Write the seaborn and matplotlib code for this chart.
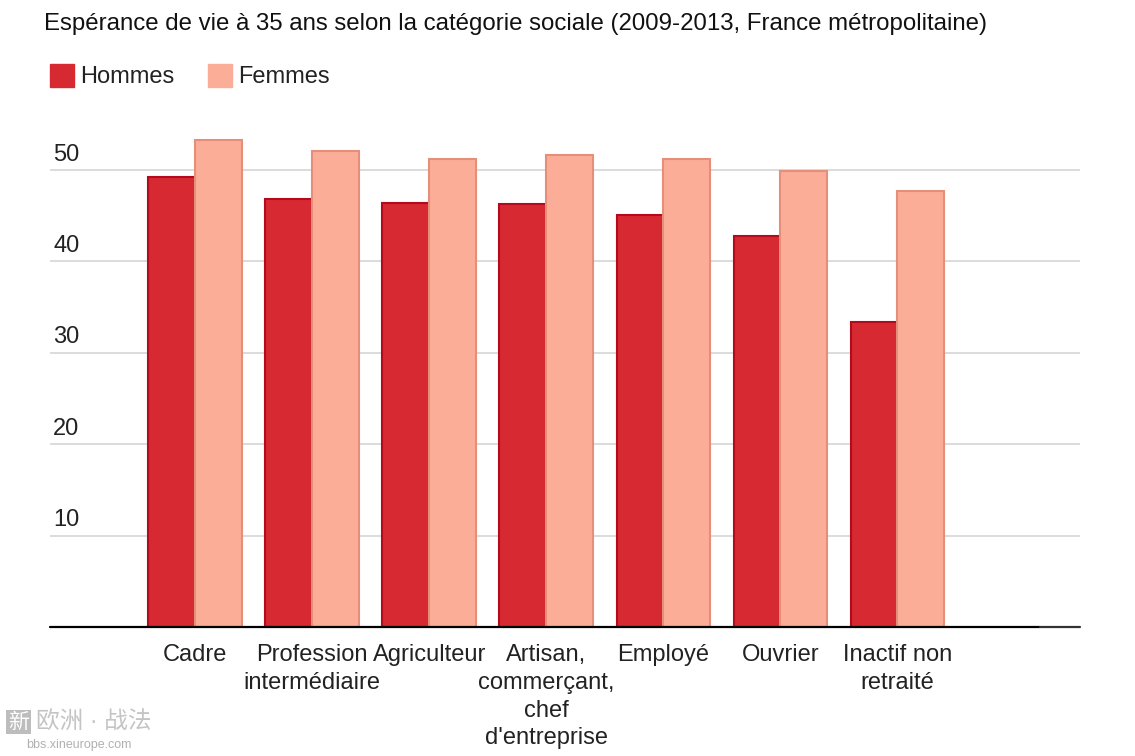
import numpy as np
import pandas as pd
import matplotlib.pyplot as plt
import seaborn as sb

# values
categories = ['Cadre', 'Profession\nintermédiaire', 'Agriculteur',
              'Artisan,\ncommerçant,\nchef\nd\'entreprise', 'Employé',
              'Ouvrier', 'Inactif non\nretraité']
hommes = [49.2, 46.8, 46.4, 46.2, 45.1, 42.7, 33.3]
femmes = [53.2, 52.1, 51.2, 51.6, 51.2, 49.9, 47.7]
series = ['Hommes', 'Femmes']
yticks = [10, 20, 30, 40, 50]

fill = {'Hommes': '#d62931', 'Femmes': '#fbad97'}
edge = {'Hommes': '#b5091d', 'Femmes': '#e58e7a'}

df = pd.DataFrame({
    'cat': categories * 2,
    'sexe': ['Hommes'] * len(categories) + ['Femmes'] * len(categories),
    'val': hommes + femmes,
})

sb.set_style('white')
plt.rcParams['font.family'] = ['Liberation Sans', 'Noto Sans CJK SC', 'DejaVu Sans']

fig = plt.figure(figsize=(11.35, 7.56), dpi=100)
ax = fig.add_axes([50 / 1135, 1 - 627 / 756, 1030 / 1135, (627 - 124) / 756])

sb.barplot(data=df, x='cat', y='val', hue='sexe', hue_order=series,
           palette=fill, width=0.8, ax=ax, saturation=1, legend=False)

# edge colours per series
for cont, s in zip(ax.containers, series):
    for bar in cont:
        bar.set_edgecolor(edge[s])
        bar.set_linewidth(1.5)

ax.set_xlim(-1.24, 7.56)
ax.set_ylim(0, 55)
ax.set_xlabel('')
ax.set_ylabel('')

# gridlines
ax.set_yticks(yticks)
ax.yaxis.grid(True, color='#d9d9d9', linewidth=1.3)
ax.set_axisbelow(True)
ax.tick_params(axis='y', left=False, labelleft=False)
for v in yticks:
    ax.annotate(str(v), xy=(0.003, v), xycoords=('axes fraction', 'data'),
                xytext=(0, 3), textcoords='offset points',
                ha='left', va='bottom', fontsize=17, color='#222222')

ax.tick_params(axis='x', bottom=False, pad=9, labelsize=17, labelcolor='#222222')
for lab in ax.get_xticklabels():
    lab.set_linespacing(1.33)

for sp in ['top', 'left', 'right']:
    ax.spines[sp].set_visible(False)
# baseline: black, last stretch dark grey
ax.spines['bottom'].set_visible(False)
ax.axhline(0, xmin=0, xmax=990 / 1030, color='black', linewidth=1.6, clip_on=False, zorder=5)
ax.axhline(0, xmin=990 / 1030, xmax=1, color='#333333', linewidth=1.6, clip_on=False, zorder=5)

fig.text(44 / 1135, 1 - 24 / 756,
         'Espérance de vie à 35 ans selon la catégorie sociale (2009-2013, France métropolitaine)',
         fontsize=17.3, color='#111111', ha='left', va='center')

# legend
handles = [plt.Rectangle((0, 0), 1, 1, color=fill[s]) for s in series]
fig.legend(handles, series, loc='upper left', bbox_to_anchor=(50 / 1135, 1 - 64 / 756),
           ncol=2, frameon=False, fontsize=17, handlelength=1.0, handleheight=1.1,
           handletextpad=0.28, columnspacing=1.42, borderpad=0, borderaxespad=0,
           labelcolor='#222222')

# watermark
fig.text(8 / 1135, 1 - 722 / 756, '新', fontsize=15, color='white', ha='left', va='center',
         bbox=dict(boxstyle='square,pad=0.1', fc='#bdbdbd', ec='none'))
fig.text(36 / 1135, 1 - 722 / 756, '欧洲 · 战法', fontsize=17, color='#c4c4c4',
         ha='left', va='center')
fig.text(26 / 1135, 1 - 745 / 756, 'bbs.xineurope.com', fontsize=9, color='#b0b0b0',
         ha='left', va='center')

plt.savefig('out.png', dpi=100)
